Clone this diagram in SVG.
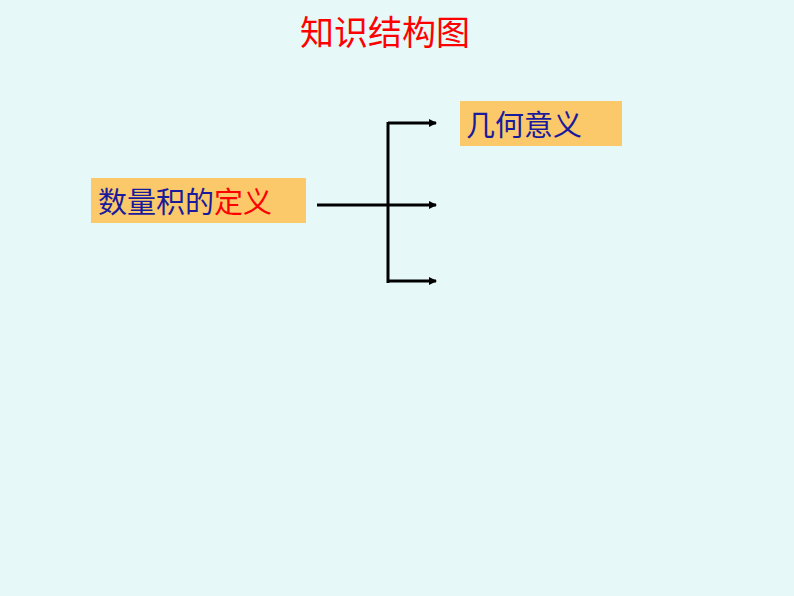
<svg xmlns="http://www.w3.org/2000/svg" width="794" height="596" viewBox="0 0 794 596">
<style>
.t{font-family:"Liberation Sans","Noto Sans CJK SC",sans-serif}
.box{fill:#fbc96a}
.ln{stroke:#000;stroke-width:3;fill:none}
</style>
<defs><marker id="ah" markerWidth="8" markerHeight="8" refX="7" refY="4" orient="auto" markerUnits="userSpaceOnUse"><path d="M0,0 L8,4 L0,8 Z" fill="#000"/></marker></defs>
<rect width="794" height="596" fill="#e6f8f8"/>
<text class="t" x="385" y="45" font-size="34" fill="#ff0000" text-anchor="middle">知识结构图</text>
<g id="n1"><rect class="box" x="91" y="178" width="215" height="45"/><text class="t" x="98" y="213" font-size="29" fill="#1a1a9c">数量积的<tspan fill="#ff0000">定义</tspan></text></g>
<g id="n2"><rect class="box" x="460" y="101" width="162" height="45"/><text class="t" x="466" y="136" font-size="29" fill="#1a1a9c">几何意义</text></g>
<g id="edges">
<path class="ln" d="M317,205 H388"/>
<path class="ln" d="M388,122 V283"/>
<path class="ln" d="M388,123 H436" marker-end="url(#ah)"/>
<path class="ln" d="M388,205 H436" marker-end="url(#ah)"/>
<path class="ln" d="M388,281 H436" marker-end="url(#ah)"/>
</g>
</svg>
